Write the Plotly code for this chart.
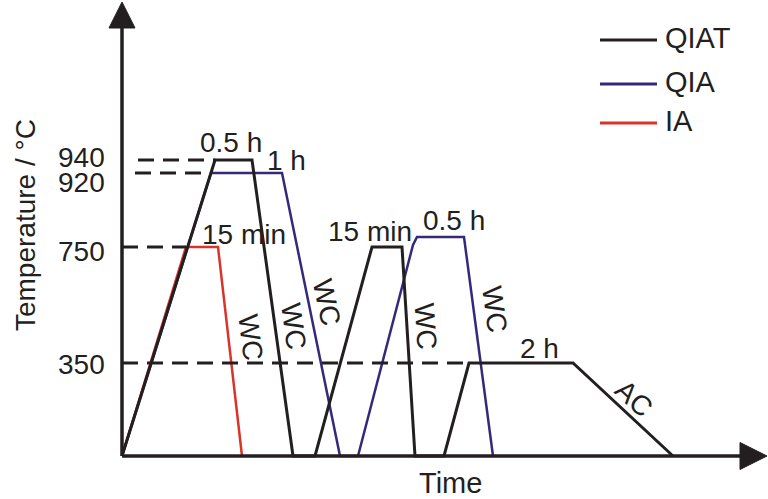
import plotly.graph_objects as go

# ---------------- data (schematic units) ----------------
series_names = ["QIAT", "QIA", "IA"]
series_colors = ["#231f20", "#35297a", "#d8342a"]
series_widths = [3, 2.5, 2.5]

qiat_time = [0, 93, 130, 171, 193, 250, 280, 293, 322, 347, 451, 551]
qiat_temp = [0, 296, 296, 0, 0, 209, 209, 0, 0, 93, 93, 0]

qia_time = [0, 89, 160, 218, 236, 291, 295, 342, 371]
qia_temp = [0, 283, 283, 0, 0, 211, 219, 219, 0]

ia_time = [0, 64, 96, 120]
ia_temp = [0, 209, 209, 0]

temp_labels = ["940", "920", "750", "350"]
temp_levels = [296, 283, 209, 93]

hold_labels = ["0.5 h", "1 h", "15 min", "15 min", "0.5 h", "2 h"]
cool_labels = ["WC", "WC", "WC", "WC", "WC", "AC"]

x_title = "Time"
y_title = "Temperature / °C"

# ---------------- style ----------------
FONT = "Liberation Sans, Arial, sans-serif"
INK = "#231f20"
fig = go.Figure()

# draw order: IA, QIA, QIAT (black on top)
for name, t, v in [("IA", ia_time, ia_temp), ("QIA", qia_time, qia_temp), ("QIAT", qiat_time, qiat_temp)]:
    i = series_names.index(name)
    fig.add_trace(go.Scatter(x=t, y=v, mode="lines", name=name, showlegend=False,
                             line=dict(color=series_colors[i], width=series_widths[i]),
                             hoverinfo="skip"))

# dashed reference lines: end at plateau starts
dash_ends = [qiat_time[1], qia_time[1], ia_time[1], qiat_time[9]]
dash_starts = [16, 13, 0, 0]
for lvl, x0, x1 in zip(temp_levels, dash_starts, dash_ends):
    fig.add_trace(go.Scatter(x=[x0, x1], y=[lvl, lvl], mode="lines", showlegend=False,
                             line=dict(color=INK, width=3, dash="16px,9px"), hoverinfo="skip"))

# axes with arrows
shapes = [
    dict(type="line", xref="x", yref="y", x0=0, y0=0, x1=622, y1=0, line=dict(color=INK, width=3.5), layer="above"),
    dict(type="line", xref="x", yref="y", x0=0, y0=0, x1=0, y1=430, line=dict(color=INK, width=3.5), layer="above"),
    dict(type="path", xref="x", yref="y", path="M 618,-13.5 L 645,0 L 618,13.5 Z", fillcolor=INK, line=dict(color=INK, width=1), layer="above"),
    dict(type="path", xref="x", yref="y", path="M -13,428 L 0,454 L 13,428 Z", fillcolor=INK, line=dict(color=INK, width=1), layer="above"),
]

# legend (manual)
leg_y = [416, 372, 333]
for i, name in enumerate(series_names):
    shapes.append(dict(type="line", xref="x", yref="y", x0=478, x1=535, y0=leg_y[i], y1=leg_y[i],
                       line=dict(color=series_colors[i], width=3)))

annotations = []
for i, name in enumerate(series_names):
    annotations.append(dict(x=541, y=leg_y[i] + 2, xref="x", yref="y", text=name, showarrow=False,
                            xanchor="left", yanchor="middle", font=dict(family=FONT, size=29, color=INK)))

# tick labels
tick_shift = [4, -8, -3, 0]
for lab, lvl, sh in zip(temp_labels, temp_levels, tick_shift):
    annotations.append(dict(x=0, y=lvl, xref="x", yref="y", text=lab, showarrow=False, xanchor="right",
                            yanchor="middle", xshift=-15, yshift=sh - 1,
                            font=dict(family=FONT, size=28, color=INK)))

# holding time labels
hold_pos = [(109, 314), (164, 296), (122, 222), (248, 225), (332, 236), (417, 108)]
for lab, (x, y) in zip(hold_labels, hold_pos):
    annotations.append(dict(x=x, y=y, xref="x", yref="y", text=lab, showarrow=False,
                            font=dict(family=FONT, size=28, color=INK)))

# cooling labels
cool_pos = [(129, 119), (172, 130), (205, 154), (304, 130), (373, 147), (512, 58)]
cool_ang = [83, 82, 78, 86, 82, 43]
for lab, (x, y), a in zip(cool_labels, cool_pos, cool_ang):
    annotations.append(dict(x=x, y=y, xref="x", yref="y", text=lab, showarrow=False, textangle=a,
                            font=dict(family=FONT, size=28, color=INK)))

# axis titles (paper coords so they can sit outside the axes)
annotations.append(dict(x=0.5204, y=-0.0255, xref="paper", yref="paper", text=x_title, showarrow=False,
                        xanchor="center", yanchor="middle",
                        font=dict(family=FONT, size=29, color=INK)))
annotations.append(dict(x=-0.124, y=0.5234, xref="paper", yref="paper", text=y_title, showarrow=False,
                        textangle=-90, xanchor="center", yanchor="middle",
                        font=dict(family=FONT, size=28, color=INK)))

fig.update_layout(
    width=768, height=499,
    margin=dict(l=107, r=0, t=1, b=28),
    paper_bgcolor="white", plot_bgcolor="white",
    xaxis=dict(range=[-15, 646], visible=False, fixedrange=True),
    yaxis=dict(range=[-15, 455], visible=False, fixedrange=True),
    shapes=shapes, annotations=annotations,
    showlegend=False,
)

fig.write_html("out.html", config={"displayModeBar": False},
               post_script="document.body.style.margin='0';document.body.style.overflow='hidden';")
